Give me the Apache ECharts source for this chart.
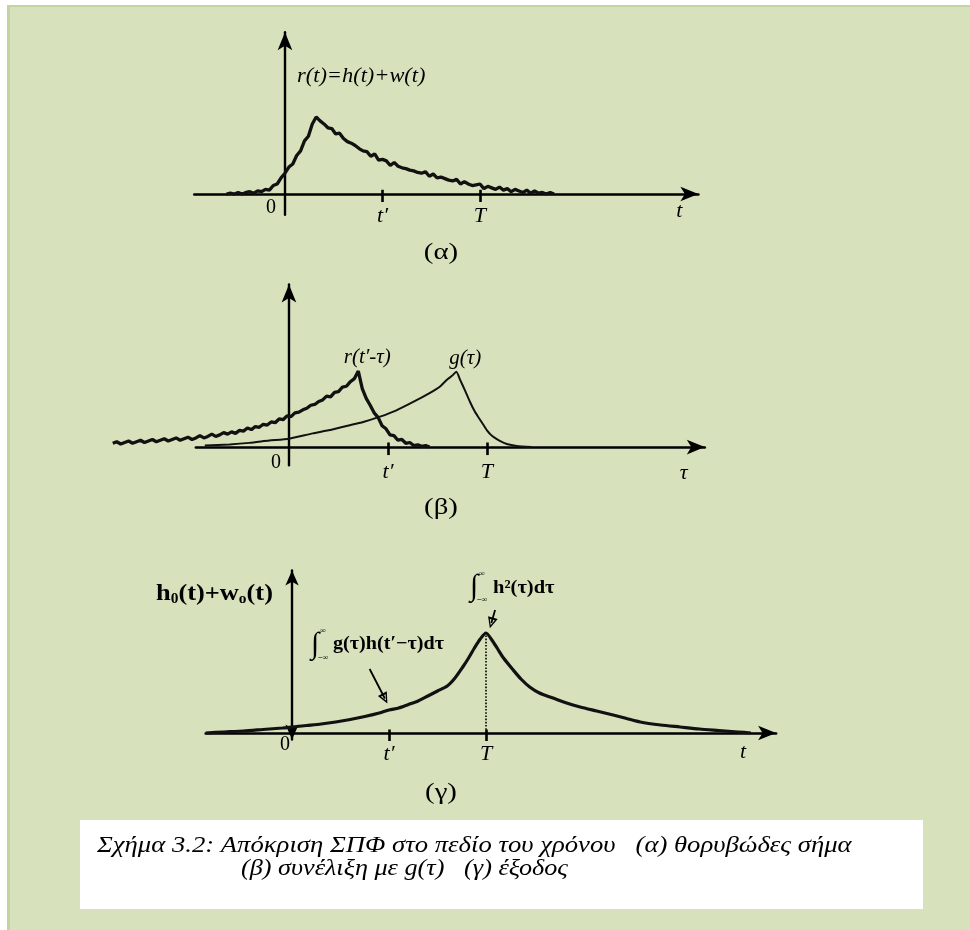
<!DOCTYPE html>
<html>
<head>
<meta charset="utf-8">
<script src="https://cdn.jsdelivr.net/npm/echarts@6/dist/echarts.min.js"></script>
<style>
html, body { margin: 0; padding: 0; background: #ffffff; }
#chart { width: 970px; height: 930px; }
</style>
</head>
<body>
<div id="chart"></div>
<script>
// Time axis marks shared by the three panels: origin, t' and T
const tickValues = [0, 1, 2];
const tickLabels = ['0', 't′', 'T'];

// (α) noisy received signal r(t) = h(t) + w(t), as [t, r]
const noisyR = [
  [-0.60,0.00],[-0.56,0.01],[-0.52,0.00],[-0.48,0.02],[-0.44,0.00],[-0.40,0.02],[-0.36,0.03],[-0.32,0.01],
  [-0.28,0.04],[-0.24,0.03],[-0.20,0.06],[-0.16,0.05],[-0.12,0.11],[-0.08,0.13],[-0.04,0.21],[0.00,0.27],
  [0.04,0.35],[0.08,0.39],[0.12,0.50],[0.16,0.56],[0.20,0.69],[0.24,0.75],[0.28,0.91],[0.32,1.00],
  [0.36,0.95],[0.40,0.91],[0.44,0.86],[0.48,0.85],[0.52,0.78],[0.56,0.79],[0.60,0.72],[0.64,0.68],
  [0.68,0.66],[0.72,0.63],[0.76,0.59],[0.80,0.56],[0.84,0.55],[0.88,0.49],[0.92,0.52],[0.96,0.44],
  [1.00,0.45],[1.04,0.43],[1.08,0.37],[1.12,0.41],[1.16,0.36],[1.20,0.34],[1.24,0.33],[1.28,0.31],
  [1.32,0.30],[1.36,0.28],[1.40,0.27],[1.44,0.29],[1.48,0.23],[1.52,0.26],[1.56,0.21],[1.60,0.22],
  [1.64,0.20],[1.68,0.18],[1.72,0.17],[1.76,0.19],[1.80,0.13],[1.84,0.16],[1.88,0.13],[1.92,0.11],
  [1.96,0.12],[2.00,0.13],[2.04,0.07],[2.08,0.10],[2.12,0.08],[2.16,0.06],[2.20,0.09],[2.24,0.05],
  [2.28,0.07],[2.32,0.03],[2.36,0.06],[2.40,0.04],[2.44,0.02],[2.48,0.05],[2.52,0.01],[2.56,0.04],
  [2.60,0.01],[2.64,0.02],[2.68,0.00],[2.72,0.02],[2.76,0.00]
];

// (β) time-reversed noisy signal r(t'-τ), as [τ, r]
const reversedR = [
  [-1.78,0.05],[-1.74,0.07],[-1.70,0.04],[-1.66,0.06],[-1.62,0.08],[-1.58,0.05],[-1.54,0.07],[-1.50,0.09],
  [-1.46,0.06],[-1.42,0.08],[-1.38,0.10],[-1.34,0.07],[-1.30,0.09],[-1.26,0.11],[-1.22,0.08],[-1.18,0.10],
  [-1.14,0.12],[-1.10,0.09],[-1.06,0.11],[-1.02,0.13],[-0.98,0.10],[-0.94,0.12],[-0.90,0.15],[-0.86,0.12],
  [-0.82,0.14],[-0.78,0.17],[-0.74,0.14],[-0.70,0.16],[-0.66,0.19],[-0.62,0.17],[-0.58,0.20],[-0.54,0.18],
  [-0.50,0.22],[-0.46,0.21],[-0.42,0.25],[-0.38,0.23],[-0.34,0.27],[-0.30,0.26],[-0.26,0.30],[-0.22,0.29],
  [-0.18,0.33],[-0.14,0.32],[-0.10,0.37],[-0.06,0.36],[-0.02,0.41],[0.02,0.40],[0.06,0.45],[0.10,0.46],
  [0.14,0.49],[0.18,0.51],[0.22,0.55],[0.26,0.56],[0.30,0.60],[0.34,0.62],[0.38,0.67],[0.42,0.66],
  [0.46,0.72],[0.50,0.73],[0.54,0.79],[0.58,0.80],[0.62,0.86],[0.66,0.90],[0.70,1.00],[0.74,0.77],
  [0.78,0.64],[0.82,0.55],[0.86,0.45],[0.90,0.39],[0.94,0.28],[0.98,0.24],[1.02,0.16],[1.06,0.15],
  [1.10,0.09],[1.14,0.10],[1.18,0.05],[1.22,0.06],[1.26,0.02],[1.30,0.03],[1.34,0.01],[1.38,0.02],
  [1.42,0.00]
];

// (β) matched filter impulse response g(τ), as [τ, g]
const filterG = [
  [-0.85,0.02],[-0.60,0.035],[-0.40,0.055],[-0.20,0.085],[0.00,0.11],[0.24,0.18],[0.40,0.22],[0.59,0.28],
  [0.75,0.33],[0.92,0.40],[1.08,0.48],[1.25,0.59],[1.42,0.71],[1.52,0.79],[1.59,0.88],[1.65,0.94],
  [1.69,0.99],[1.73,0.88],[1.78,0.74],[1.83,0.59],[1.88,0.46],[1.92,0.38],[1.96,0.30],[2.00,0.22],
  [2.04,0.16],[2.08,0.12],[2.13,0.08],[2.20,0.04],[2.30,0.015],[2.45,0.00]
];

// (γ) filter output h0(t) + w0(t), as [t, y]
const filterOut = [
  [-0.89,0.00],[-0.70,0.01],[-0.50,0.02],[-0.30,0.035],[-0.10,0.05],[0.00,0.06],[0.15,0.075],[0.30,0.09],
  [0.45,0.11],[0.60,0.135],[0.75,0.165],[0.90,0.20],[1.00,0.23],[1.10,0.25],[1.20,0.285],[1.30,0.32],
  [1.40,0.37],[1.50,0.42],[1.60,0.47],[1.68,0.55],[1.76,0.66],[1.82,0.75],[1.88,0.85],[1.94,0.94],
  [2.00,1.00],[2.06,0.93],[2.12,0.84],[2.18,0.75],[2.28,0.63],[2.36,0.54],[2.45,0.46],[2.55,0.40],
  [2.69,0.35],[2.83,0.30],[2.97,0.26],[3.14,0.22],[3.31,0.18],[3.45,0.145],[3.59,0.11],[3.80,0.08],
  [4.00,0.06],[4.20,0.04],[4.40,0.025],[4.60,0.01],[4.73,0.00]
];

const SERIF = 'Liberation Serif';
const INK = '#111111';
const GREEN = '#d7e1bc';
const GREEN_EDGE = '#c3d4a0';

// Hollow triangular arrowhead pointing along the line
const hollowHead = 'path://M5,0 L10,11 L0,11 Z M5,3.2 L2.4,9 L7.6,9 Z';

// margin: label offset from the grid bottom; zeroPad: shifts "0" left of the vertical axis
function timeAxis(gridIndex, min, max, name, nameGap, namePad, margin, zeroPad) {
  return {
    type: 'value', gridIndex, min, max,
    axisLine: {
      onZero: true, symbol: ['none', 'arrow'], symbolSize: [11, 18],
      lineStyle: { color: '#000', width: 2.6 }
    },
    axisTick: {
      show: true, customValues: tickValues.slice(1), length: 8, inside: false,
      lineStyle: { color: '#000', width: 2.6 }
    },
    axisLabel: {
      show: true, customValues: tickValues, margin, color: '#000',
      formatter: v => {
        const i = tickValues.indexOf(v);
        return i === 0 ? '{z|' + tickLabels[i] + '}' : '{t|' + tickLabels[i] + '}';
      },
      rich: {
        z: { fontFamily: SERIF, fontSize: 20, color: '#000', padding: [0, zeroPad, 0, 0] },
        t: { fontFamily: SERIF, fontStyle: 'italic', fontSize: 22, color: '#000', padding: [8, 0, 0, 0] }
      }
    },
    splitLine: { show: false },
    name, nameLocation: 'end', nameGap,
    nameTextStyle: {
      fontFamily: SERIF, fontStyle: 'italic', fontSize: 22, color: '#000',
      align: 'center', verticalAlign: 'top', padding: [namePad, 0, 0, 0]
    }
  };
}

function ampAxis(gridIndex, min, max, bothArrows) {
  return {
    type: 'value', gridIndex, min, max,
    axisLine: {
      onZero: true, symbol: bothArrows ? ['arrow', 'arrow'] : ['none', 'arrow'],
      symbolSize: bothArrows ? [10, 15] : [11, 18],
      lineStyle: { color: '#000', width: 2.4 }
    },
    axisTick: { show: false },
    axisLabel: { show: false },
    splitLine: { show: false }
  };
}

// invisible axis used to let the reversed signal run left of the drawn τ axis
function hiddenAxis(gridIndex, min, max) {
  return {
    type: 'value', gridIndex, min, max, show: false,
    axisLine: { show: false }, axisTick: { show: false }, axisLabel: { show: false }, splitLine: { show: false }
  };
}

// short stubs so the t' and T ticks also poke above the time axis
function tickStubs(height) {
  return tickValues.slice(1).map(v => [
    { coord: [v, 0], symbol: 'none', lineStyle: { type: 'solid', width: 2.6, color: '#000' } },
    { coord: [v, height], symbol: 'none' }
  ]);
}

const rPeak = reversedR.reduce((a, b) => (b[1] > a[1] ? b : a));
const gPeak = filterG.reduce((a, b) => (b[1] > a[1] ? b : a));
const outPeak = filterOut.find(p => p[0] === tickValues[2]);

const labelFont = { fontFamily: SERIF, fontStyle: 'italic', fontSize: 21, color: '#000' };

const option = {
  backgroundColor: '#ffffff',
  animation: false,
  grid: [
    { left: 194.3, top: 32.3, width: 504.1, height: 182.5 },
    { left: 195.9, top: 284.4, width: 508.9, height: 180.9 },
    { left: 205.7, top: 570.5, width: 570.4, height: 169 },
    { left: 100.9, top: 284.4, width: 603.9, height: 180.9 }
  ],
  xAxis: [
    timeAxis(0, -0.93, 4.24, 't', -19, 6, -17.5, 28),
    timeAxis(1, -0.94, 4.2, 'τ', -21, 15, -12.5, 26),
    timeAxis(2, -0.89, 4.99, 't', -33, 8, -4.5, 14),
    hiddenAxis(3, -1.9, 4.2)
  ],
  yAxis: [
    ampAxis(0, -0.27, 2.1, false),
    ampAxis(1, -0.24, 2.14, false),
    ampAxis(2, -0.065, 1.625, true),
    hiddenAxis(3, -0.24, 2.14)
  ],
  series: [
    {
      name: 'r(t)', type: 'line', xAxisIndex: 0, yAxisIndex: 0,
      data: noisyR, showSymbol: false,
      lineStyle: { color: INK, width: 3.3 },
      markLine: { silent: true, animation: false, label: { show: false }, data: tickStubs(0.055) }
    },
    {
      name: "r(t'-τ)", type: 'line', xAxisIndex: 3, yAxisIndex: 3,
      data: reversedR, showSymbol: false,
      lineStyle: { color: INK, width: 3.3 },
      markPoint: {
        symbol: 'circle', symbolSize: 0, silent: true,
        data: [{ coord: rPeak }],
        label: Object.assign({ show: true, position: 'top', offset: [9, 2], formatter: 'r(t′-τ)' }, labelFont)
      }
    },
    {
      name: 'g(τ)', type: 'line', xAxisIndex: 1, yAxisIndex: 1,
      data: filterG, showSymbol: false, smooth: 0.2,
      lineStyle: { color: INK, width: 2 },
      markPoint: {
        symbol: 'circle', symbolSize: 0, silent: true,
        data: [{ coord: gPeak }],
        label: Object.assign({ show: true, position: 'top', offset: [9, 2], formatter: 'g(τ)' }, labelFont)
      },
      markLine: { silent: true, animation: false, label: { show: false }, data: tickStubs(0.06) }
    },
    {
      name: 'h0(t)+w0(t)', type: 'line', xAxisIndex: 2, yAxisIndex: 2,
      data: filterOut, showSymbol: false, smooth: 0.25,
      lineStyle: { color: INK, width: 3.2 },
      markLine: {
        silent: true, animation: false,
        label: { show: false },
        data: tickStubs(0.035).concat([
          [
            { coord: [outPeak[0], 0], symbol: 'none', lineStyle: { type: 'dotted', width: 1.6, color: '#000' } },
            { coord: outPeak, symbol: 'none' }
          ],
          [
            { coord: [2.093, 1.23], symbol: 'none', lineStyle: { type: 'solid', width: 1.8, color: '#000' } },
            { coord: [2.055, 1.10], symbol: hollowHead, symbolSize: [10, 11] }
          ],
          [
            { coord: [0.80, 0.64], symbol: 'none', lineStyle: { type: 'solid', width: 1.8, color: '#000' } },
            { coord: [0.957, 0.345], symbol: hollowHead, symbolSize: [10, 11] }
          ]
        ])
      }
    }
  ],
  graphic: [
    // page panel with its darker top and left edges
    { type: 'rect', z: -10, shape: { x: 7, y: 5, width: 963, height: 925 }, style: { fill: GREEN } },
    { type: 'rect', z: -9, shape: { x: 7, y: 5, width: 3, height: 925 }, style: { fill: GREEN_EDGE } },
    { type: 'rect', z: -9, shape: { x: 7, y: 5, width: 963, height: 2 }, style: { fill: GREEN_EDGE } },

    // (α) signal label
    { type: 'text', x: 297, y: 77, scaleX: 1.12, style: { text: 'r(t)=h(t)+w(t)', font: 'italic 20px "Liberation Serif"', fill: '#000', verticalAlign: 'middle' } },

    // (γ) output label and integral annotations
    { type: 'text', x: 156, y: 594, scaleX: 1.1, style: {
        text: '{b|h}{s|0}{b|(t)+w}{s|o}{b|(t)}', verticalAlign: 'middle',
        rich: {
          b: { font: 'bold 24px "Liberation Serif"', fill: '#000', verticalAlign: 'bottom' },
          s: { font: 'bold 14px "Liberation Serif"', fill: '#000', verticalAlign: 'bottom' }
        } } },
    { type: 'text', x: 311, y: 645, style: { text: '∫', font: 'bold 30px "Liberation Serif"', fill: '#000', verticalAlign: 'middle' } },
    { type: 'text', x: 320, y: 631, style: { text: '∞', font: 'bold 8px "Liberation Serif"', fill: '#000', verticalAlign: 'middle' } },
    { type: 'text', x: 318, y: 658, style: { text: '−∞', font: 'bold 8px "Liberation Serif"', fill: '#000', verticalAlign: 'middle' } },
    { type: 'text', x: 333, y: 644, scaleX: 1.06, style: { text: 'g(τ)h(t′−τ)dτ', font: 'bold 19px "Liberation Serif"', fill: '#000', verticalAlign: 'middle' } },
    { type: 'text', x: 470, y: 587, style: { text: '∫', font: 'bold 30px "Liberation Serif"', fill: '#000', verticalAlign: 'middle' } },
    { type: 'text', x: 479, y: 574, style: { text: '∞', font: 'bold 8px "Liberation Serif"', fill: '#000', verticalAlign: 'middle' } },
    { type: 'text', x: 477, y: 600, style: { text: '−∞', font: 'bold 8px "Liberation Serif"', fill: '#000', verticalAlign: 'middle' } },
    { type: 'text', x: 493, y: 588, scaleX: 1.08, style: { text: 'h²(τ)dτ', font: 'bold 19px "Liberation Serif"', fill: '#000', verticalAlign: 'middle' } },

    // sub-figure tags
    { type: 'text', x: 441, y: 253, scaleX: 1.2, style: { text: '(α)', font: '24px "Liberation Serif"', fill: '#000', align: 'center', verticalAlign: 'middle' } },
    { type: 'text', x: 441, y: 508, scaleX: 1.2, style: { text: '(β)', font: '24px "Liberation Serif"', fill: '#000', align: 'center', verticalAlign: 'middle' } },
    { type: 'text', x: 441, y: 793, scaleX: 1.2, style: { text: '(γ)', font: '24px "Liberation Serif"', fill: '#000', align: 'center', verticalAlign: 'middle' } },

    // caption box
    { type: 'rect', shape: { x: 80, y: 820, width: 843, height: 89 }, style: { fill: '#ffffff' } },
    { type: 'text', x: 97, y: 846, scaleX: 1.16, style: { text: 'Σχήμα 3.2: Απόκριση ΣΠΦ στο πεδίο του χρόνου   (α) θορυβώδες σήμα', font: 'italic 23px "Liberation Serif"', fill: '#000', verticalAlign: 'middle' } },
    { type: 'text', x: 241, y: 869, scaleX: 1.14, style: { text: '(β) συνέλιξη με g(τ)   (γ) έξοδος', font: 'italic 23px "Liberation Serif"', fill: '#000', verticalAlign: 'middle' } }
  ]
};

const chart = echarts.init(document.getElementById('chart'), null, { renderer: 'canvas' });
chart.setOption(option);
</script>
</body>
</html>
